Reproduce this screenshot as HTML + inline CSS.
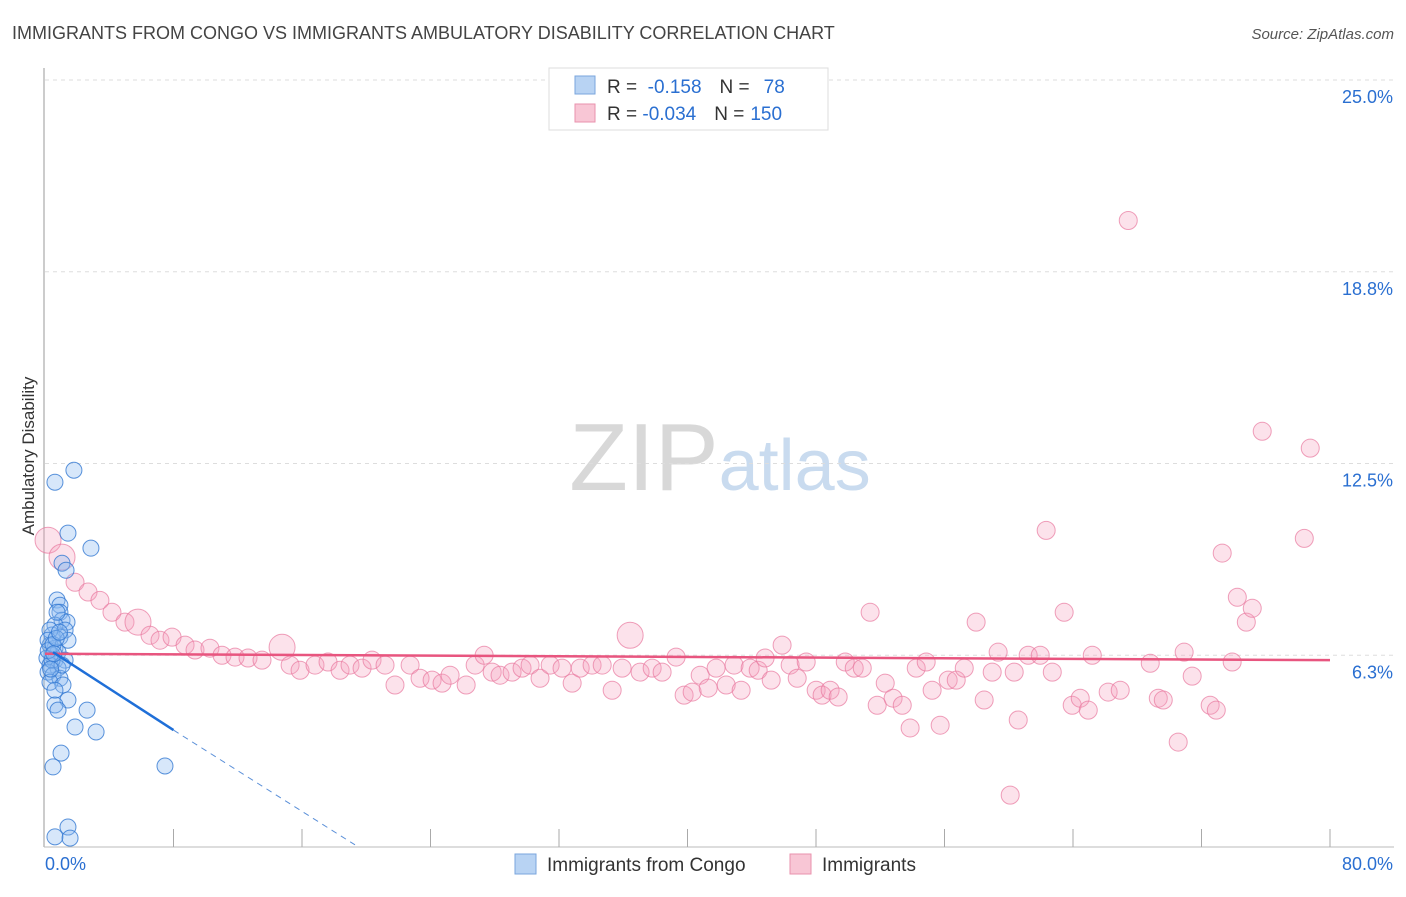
<!DOCTYPE html>
<html><head><meta charset="utf-8"><style>
body{margin:0;background:#fff;font-family:"Liberation Sans",sans-serif}
svg text{font-family:"Liberation Sans",sans-serif}
</style></head><body>
<svg id="chart" width="1406" height="892" viewBox="0 0 1406 892" xmlns="http://www.w3.org/2000/svg">
<text x="12" y="39" font-size="18" fill="#444">IMMIGRANTS FROM CONGO VS IMMIGRANTS AMBULATORY DISABILITY CORRELATION CHART</text>
<text x="1394" y="39" font-size="15" fill="#555" font-style="italic" text-anchor="end">Source: ZipAtlas.com</text>
<text x="720" y="490" font-size="96" text-anchor="middle" fill="#ddd" font-family="Liberation Serif"><tspan fill="#d8d8d8">ZIP</tspan><tspan fill="#c9dbef" font-family="Liberation Sans" font-size="72">atlas</tspan></text>
<g id="grid"></g>
<g id="axes"></g>
<text transform="translate(34,456) rotate(-90)" font-size="17" fill="#333" text-anchor="middle">Ambulatory Disability</text>
<g id="pinkPts"></g>
<g id="bluePts"></g>
<g id="trends"></g>
<g>
<rect x="549" y="68" width="279" height="62" fill="#fff" stroke="#ddd"/>
<rect x="575" y="76" width="20" height="18" fill="#b8d3f3" stroke="#7aa6dc"/>
<rect x="575" y="104" width="20" height="18" fill="#f8c6d5" stroke="#e992ad"/>
<text x="607" y="93" font-size="19" fill="#333">R = <tspan fill="#2a6fd1">&#160;-0.158</tspan><tspan dx="18">N =</tspan><tspan fill="#2a6fd1" dx="14">78</tspan></text>
<text x="607" y="120" font-size="19" fill="#333">R = <tspan fill="#2a6fd1">-0.034</tspan><tspan dx="18">N =</tspan><tspan fill="#2a6fd1" dx="6">150</tspan></text>
</g>
<g>
<rect x="515" y="854" width="21" height="20" fill="#b8d3f3" stroke="#7aa6dc"/>
<text x="547" y="871" font-size="19" fill="#333">Immigrants from Congo</text>
<rect x="790" y="854" width="21" height="20" fill="#f8c6d5" stroke="#e992ad"/>
<text x="822" y="871" font-size="19" fill="#333">Immigrants</text>
</g>
</svg>
<script>
const yTicks=[6.25,12.5,18.75,25];
const yTickLabels=["6.3%","12.5%","18.8%","25.0%"];
const xTicks=[8,16,24,32,40,48,56,64,72,80];
const xEndLabels=["0.0%","80.0%"];
const blueX=[0.62,1.8,1.43,2.86,1.06,1.31,0.75,0.93,0.93,1.06,1.37,0.62,1.25,0.44,0.93,1.43,0.31,0.62,0.81,0.44,0.12,0.62,1.25,0.31,0.81,0.19,0.5,0.93,0.31,1.12,0.62,1.43,0.62,0.81,2.62,1.87,3.18,1.0,0.5,7.47,0.62,1.43,1.56,0.31,0.75,0.19,0.44,1.06,0.2,0.5,0.7,0.9,0.35,0.55];
const blueY=[11.89,12.28,10.23,9.74,9.25,9.02,8.05,7.88,7.65,7.39,7.33,7.23,7.07,6.91,6.84,6.74,6.58,6.48,6.35,6.25,6.16,6.09,6.09,5.93,5.83,5.7,5.6,5.5,5.37,5.28,5.11,4.79,4.63,4.46,4.46,3.91,3.75,3.06,2.61,2.64,0.33,0.65,0.29,7.07,7.65,6.74,6.09,5.93,6.4,6.6,6.8,7.0,5.8,6.3];
const pinkX=[0.19,1.06,1.87,2.68,3.42,4.17,4.98,5.79,6.54,7.16,7.91,8.72,9.34,10.27,11.02,11.83,12.64,13.51,14.76,15.26,15.88,16.81,17.62,18.37,18.99,19.74,20.36,21.17,21.79,22.73,23.35,24.1,24.72,25.22,26.22,26.78,27.34,27.84,28.33,29.08,29.7,30.2,30.82,31.45,32.19,32.82,33.32,34.06,34.69,35.31,35.93,36.43,37.05,37.8,38.42,39.29,39.79,40.29,40.79,41.29,41.78,42.41,42.9,43.34,43.9,44.4,44.83,45.21,45.89,46.39,46.83,47.39,48.01,48.38,48.88,49.38,49.82,50.38,50.88,51.37,51.81,52.31,52.8,53.37,53.86,54.24,54.86,55.23,55.73,56.23,56.73,57.23,57.97,58.47,58.97,59.34,60.09,60.34,60.59,61.21,61.96,62.33,62.71,63.45,63.95,64.45,64.95,65.2,66.19,66.94,67.44,68.81,69.31,69.62,70.55,70.92,71.42,72.54,72.92,73.29,73.91,74.23,74.79,75.16,75.78,78.4,78.77];
const pinkY=[10.0,9.45,8.63,8.31,8.04,7.65,7.33,7.33,6.9,6.74,6.84,6.58,6.42,6.48,6.25,6.19,6.16,6.09,6.51,5.93,5.76,5.93,6.03,5.76,5.93,5.83,6.09,5.93,5.28,5.93,5.5,5.44,5.34,5.6,5.28,5.93,6.25,5.7,5.6,5.7,5.83,5.93,5.5,5.93,5.83,5.34,5.83,5.93,5.93,5.11,5.83,6.9,5.7,5.83,5.7,6.19,4.95,5.05,5.6,5.18,5.83,5.28,5.93,5.11,5.83,5.76,6.16,5.44,6.58,5.93,5.5,6.03,5.11,4.95,5.11,4.89,6.03,5.83,5.83,7.65,4.62,5.34,4.85,4.62,3.88,5.83,6.03,5.11,3.97,5.44,5.44,5.83,7.33,4.79,5.7,6.35,1.69,5.7,4.14,6.25,6.25,10.32,5.7,7.65,4.62,4.85,4.46,6.25,5.05,5.11,20.42,5.99,4.85,4.79,3.42,6.35,5.57,4.62,4.46,9.58,6.03,8.14,7.33,7.78,13.55,10.06,13.0];
const pinkBig=[0,1,7,18,51];
const blueTrend=[[0.5,6.35],[8,3.81]];
const blueTrendExt=[[8,3.81],[19.3,0.07]];
const pinkTrend=[[0,6.3],[80,6.09]];

const X0=45,X1=1330,Y0=847,Y25=80;
const sx=v=>X0+(X1-X0)*v/80;
const sy=v=>Y0-(Y0-Y25)*v/25;
const NS="http://www.w3.org/2000/svg";
function mk(tag,attrs,parent){const e=document.createElementNS(NS,tag);for(const k in attrs)e.setAttribute(k,attrs[k]);parent.appendChild(e);return e;}
const grid=document.getElementById('grid'),axes=document.getElementById('axes');
yTicks.forEach((t,i)=>{
 const l=mk('line',{x1:45,x2:1394,y1:sy(t),y2:sy(t),stroke:'#ddd','stroke-dasharray':'4,4'},grid);
 
 
 const tx=mk('text',{x:1393,y:sy(t)+23,'font-size':18,fill:'#2a6fd1','text-anchor':'end'},axes);
 tx.textContent=yTickLabels[i];
 
 
});
const ax=mk('line',{x1:44,x2:44,y1:68,y2:847,stroke:'#999'},axes);


const bx=mk('line',{x1:44,x2:1394,y1:847,y2:847,stroke:'#bbb'},axes);


xTicks.forEach(t=>{
 const l=mk('line',{x1:sx(t),x2:sx(t),y1:829,y2:847,stroke:'#aaa'},axes);
 
 
});
const xl0=mk('text',{x:45,y:870,'font-size':18,fill:'#2a6fd1'},axes);xl0.textContent=xEndLabels[0];


const xl1=mk('text',{x:1393,y:870,'font-size':18,fill:'#2a6fd1','text-anchor':'end'},axes);xl1.textContent=xEndLabels[1];



const pg=document.getElementById('pinkPts');
pinkX.forEach((x,i)=>{
 const c=mk('circle',{cx:sx(x),cy:sy(pinkY[i]),r:pinkBig.includes(i)?13:9,fill:'rgba(245,160,188,0.3)',stroke:'rgba(232,120,158,0.7)','stroke-width':1},pg);
 
 
});
const bg=document.getElementById('bluePts');
blueX.forEach((x,i)=>{
 const c=mk('circle',{cx:sx(x),cy:sy(blueY[i]),r:8,fill:'rgba(140,185,240,0.35)',stroke:'rgba(50,120,210,0.8)','stroke-width':1},bg);
 
 
});
const tg=document.getElementById('trends');
const pt=mk('line',{x1:sx(pinkTrend[0][0]),y1:sy(pinkTrend[0][1]),x2:sx(pinkTrend[1][0]),y2:sy(pinkTrend[1][1]),stroke:'#e8557f','stroke-width':2.5},tg);


const bt=mk('line',{x1:sx(blueTrend[0][0]),y1:sy(blueTrend[0][1]),x2:sx(blueTrend[1][0]),y2:sy(blueTrend[1][1]),stroke:'#1f6fd8','stroke-width':2.5},tg);


const be=mk('line',{x1:sx(blueTrendExt[0][0]),y1:sy(blueTrendExt[0][1]),x2:sx(blueTrendExt[1][0]),y2:sy(blueTrendExt[1][1]),stroke:'#5a8fd8','stroke-width':1,'stroke-dasharray':'6,5'},tg);


</script>
</body></html>
